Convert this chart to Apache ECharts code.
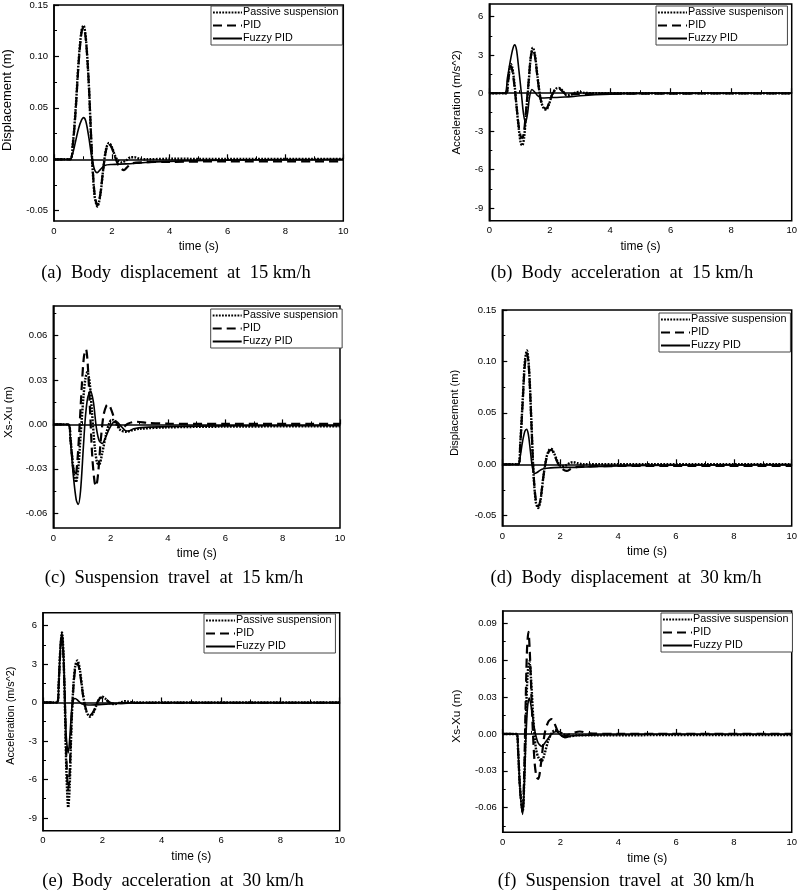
<!DOCTYPE html>
<html><head><meta charset="utf-8">
<script src="https://cdn.jsdelivr.net/npm/echarts@6/dist/echarts.min.js"></script>
<style>html,body{margin:0;padding:0;background:#fff}#c{width:800px;height:892px}</style>
</head><body><div id="c"></div>
<script>
// ---------- data ----------
const xTickLabels = ['0','2','4','6','8','10'];
const seriesNames = ['Passive suspension','PID','Fuzzy PID'];
const seriesNamesB = ['Passive suspenison','PID','Fuzzy PID'];
const captions = ['(a)  Body  displacement  at  15 km/h','(b)  Body  acceleration  at  15 km/h','(c)  Suspension  travel  at  15 km/h','(d)  Body  displacement  at  30 km/h','(e)  Body  acceleration  at  30 km/h','(f)  Suspension  travel  at  30 km/h'];
const yNames = ['Displacement (m)','Acceleration (m/s^2)','Xs-Xu (m)','Displacement (m)','Acceleration (m/s^2)','Xs-Xu (m)'];

const dispYLabels = ['-0.05','0.00','0.05','0.10','0.15'];
const dispYMinor = [-0.025,0.025,0.075,0.125];
const accYLabels = ['-9','-6','-3','0','3','6'];
const accYMinor = [-7.5,-4.5,-1.5,1.5,4.5];
const travCYLabels = ['-0.06','-0.03','0.00','0.03','0.06'];
const travCYMinor = [-0.045,-0.015,0.015,0.045,0.075];
const travFYLabels = ['-0.06','-0.03','0.00','0.03','0.06','0.09'];
const travFYMinor = [-0.075,-0.045,-0.015,0.015,0.045,0.075];

const aPassive = [[0,0],[0.55,0],[0.65,0.015],[0.75,0.05],[0.85,0.095],[0.95,0.125],[1.02,0.13],[1.1,0.118],[1.2,0.075],[1.3,0.01],[1.4,-0.035],[1.5,-0.046],[1.6,-0.035],[1.7,-0.01],[1.8,0.01],[1.9,0.016],[2.0,0.012],[2.1,0.004],[2.2,-0.001],[2.35,-0.003],[2.5,-0.001],[2.65,0.002],[2.78,0.002],[2.95,0.0005],[3.2,0],[4,0.0005],[6,0.0003],[10,0.0003]];
const aPID = [[0,0],[0.55,0],[0.65,0.014],[0.75,0.048],[0.85,0.093],[0.95,0.123],[1.02,0.128],[1.1,0.117],[1.2,0.075],[1.3,0.012],[1.4,-0.033],[1.5,-0.045],[1.6,-0.034],[1.7,-0.01],[1.8,0.009],[1.9,0.015],[2.0,0.011],[2.1,0.003],[2.2,-0.004],[2.32,-0.009],[2.42,-0.0105],[2.55,-0.007],[2.7,-0.004],[3.0,-0.003],[4,-0.0025],[6,-0.002],[10,-0.002]];
const aFuzzy = [[0,0],[0.55,0],[0.65,0.006],[0.75,0.018],[0.85,0.03],[0.95,0.038],[1.02,0.0405],[1.1,0.037],[1.2,0.022],[1.3,0.003],[1.4,-0.01],[1.49,-0.013],[1.6,-0.01],[1.75,-0.006],[2.0,-0.005],[2.5,-0.0045],[3.0,-0.0035],[3.5,-0.0025],[4.5,-0.0015],[6,-0.0008],[8,-0.0003],[10,0]];

const bPassive = [[0,0],[0.55,0],[0.62,1.0],[0.67,1.9],[0.71,2.3],[0.76,2.0],[0.83,0.8],[0.9,-1.0],[0.98,-2.9],[1.04,-3.9],[1.09,-4.1],[1.15,-3.5],[1.22,-1.5],[1.3,0.8],[1.37,2.8],[1.44,3.58],[1.51,3.0],[1.6,1.2],[1.7,-0.5],[1.8,-1.2],[1.88,-1.29],[1.97,-0.9],[2.08,-0.1],[2.2,0.35],[2.3,0.42],[2.42,0.2],[2.56,-0.15],[2.7,-0.1],[2.85,0.05],[2.97,0.1],[3.15,0.03],[3.5,0],[10,0]];
const bPID = [[0,0],[0.55,0],[0.62,0.9],[0.67,1.7],[0.71,2.1],[0.76,1.8],[0.83,0.6],[0.9,-1.0],[0.98,-2.7],[1.04,-3.4],[1.09,-3.5],[1.15,-3.0],[1.22,-1.2],[1.3,0.9],[1.37,2.8],[1.44,3.45],[1.51,2.9],[1.6,1.1],[1.7,-0.5],[1.8,-1.1],[1.88,-1.2],[1.97,-0.8],[2.08,-0.1],[2.2,0.3],[2.3,0.38],[2.42,0.15],[2.56,-0.12],[2.8,-0.05],[3.2,-0.05],[4,-0.03],[10,-0.02]];
const bFuzzy = [[0,0],[0.5,0],[0.6,1.2],[0.7,2.6],[0.78,3.5],[0.84,3.79],[0.9,3.4],[0.97,2.0],[1.06,0],[1.13,-1.6],[1.2,-2.3],[1.27,-1.5],[1.33,-0.3],[1.41,0.29],[1.5,0.1],[1.6,-0.2],[1.72,-0.37],[2.0,-0.35],[2.5,-0.3],[3.0,-0.2],[3.5,-0.12],[4,-0.07],[5,-0.02],[6,0],[10,0]];

const cPassive = [[0,0],[0.52,0],[0.6,-0.01],[0.7,-0.03],[0.79,-0.039],[0.87,-0.03],[0.95,-0.008],[1.05,0.018],[1.12,0.031],[1.19,0.0354],[1.27,0.028],[1.35,0.008],[1.45,-0.016],[1.53,-0.026],[1.6,-0.027],[1.7,-0.02],[1.85,-0.006],[1.98,0.002],[2.09,0.003],[2.2,0.0],[2.35,-0.004],[2.56,-0.005],[2.75,-0.004],[3.0,-0.003],[4,-0.002],[6,-0.0015],[10,-0.0012]];
const cPID = [[0,0],[0.52,0],[0.6,-0.01],[0.7,-0.03],[0.77,-0.035],[0.84,-0.025],[0.92,0.0],[1.0,0.028],[1.07,0.046],[1.14,0.0508],[1.2,0.041],[1.28,0.01],[1.36,-0.022],[1.44,-0.039],[1.49,-0.0417],[1.56,-0.034],[1.65,-0.012],[1.75,0.006],[1.85,0.0125],[1.92,0.0135],[2.0,0.011],[2.15,0.003],[2.3,-0.002],[2.4,-0.0025],[2.6,0.0005],[2.9,0.0018],[3.3,0.001],[4,0.0005],[6,0.0003],[10,0.0003]];
const cFuzzy = [[0,0],[0.52,0],[0.6,-0.012],[0.7,-0.035],[0.8,-0.051],[0.87,-0.0541],[0.95,-0.045],[1.05,-0.015],[1.12,0.005],[1.2,0.018],[1.3,0.0226],[1.4,0.015],[1.5,-0.002],[1.6,-0.011],[1.71,-0.0129],[1.8,-0.01],[1.95,-0.003],[2.1,0.0015],[2.2,0.002],[2.35,-0.001],[2.5,-0.004],[2.62,-0.0045],[2.8,-0.003],[3.2,-0.002],[4,-0.0015],[6,-0.001],[10,-0.0008]];

const dPassive = [[0,0],[0.55,0],[0.62,0.02],[0.7,0.06],[0.78,0.1],[0.85,0.1106],[0.92,0.095],[1.0,0.045],[1.08,-0.01],[1.16,-0.037],[1.24,-0.0426],[1.32,-0.035],[1.42,-0.012],[1.52,0.006],[1.62,0.014],[1.7,0.0148],[1.8,0.01],[1.92,0.002],[2.05,-0.002],[2.2,-0.001],[2.35,0.0015],[2.45,0.002],[2.6,0.001],[2.8,0],[10,0]];
const dPID = [[0,0],[0.55,0],[0.62,0.019],[0.7,0.058],[0.78,0.097],[0.85,0.108],[0.92,0.093],[1.0,0.044],[1.08,-0.009],[1.16,-0.035],[1.24,-0.041],[1.32,-0.034],[1.42,-0.012],[1.52,0.005],[1.62,0.013],[1.7,0.014],[1.8,0.009],[1.92,0.001],[2.05,-0.004],[2.22,-0.0065],[2.4,-0.004],[2.6,-0.0025],[3,-0.002],[5,-0.0015],[10,-0.0015]];
const dFuzzy = [[0,0],[0.55,0],[0.62,0.008],[0.7,0.022],[0.78,0.032],[0.84,0.0339],[0.9,0.029],[0.97,0.013],[1.04,-0.003],[1.11,-0.009],[1.2,-0.008],[1.35,-0.005],[1.53,-0.0039],[2.0,-0.003],[2.5,-0.003],[3,-0.0025],[4,-0.0015],[6,-0.0008],[10,-0.0003]];

const ePassive = [[0,0],[0.48,0],[0.53,1.5],[0.58,4.0],[0.64,5.46],[0.69,3.8],[0.74,-0.5],[0.79,-5.5],[0.85,-8.19],[0.9,-6.5],[0.95,-2.5],[1.02,1.2],[1.09,2.9],[1.16,3.27],[1.24,2.6],[1.34,0.8],[1.45,-0.6],[1.58,-1.11],[1.7,-0.8],[1.82,-0.1],[1.92,0.35],[2.0,0.44],[2.1,0.3],[2.25,-0.05],[2.43,-0.12],[2.6,0.0],[2.76,0.1],[2.9,0.05],[3.1,0],[10,0]];
const ePID = [[0,0],[0.48,0],[0.53,1.4],[0.58,3.9],[0.63,5.35],[0.68,4.0],[0.74,0.0],[0.79,-4.5],[0.85,-6.8],[0.9,-5.4],[0.95,-2.0],[1.02,1.0],[1.09,2.7],[1.16,3.05],[1.24,2.4],[1.34,0.7],[1.45,-0.55],[1.58,-1.0],[1.7,-0.7],[1.82,-0.05],[1.92,0.32],[2.0,0.4],[2.1,0.28],[2.25,0.0],[2.4,-0.08],[2.6,-0.05],[3,-0.03],[10,-0.02]];
const eFuzzy = [[0,0],[0.48,0],[0.53,1.5],[0.58,4.0],[0.63,5.46],[0.68,4.2],[0.73,1.0],[0.78,-2.5],[0.85,-3.94],[0.91,-2.5],[0.97,-0.5],[1.03,0.25],[1.08,0.31],[1.18,0.15],[1.3,-0.1],[1.53,-0.2],[2.0,-0.15],[2.5,-0.08],[3,-0.03],[4,0],[10,0]];

const fPassive = [[0,0],[0.48,0],[0.53,-0.012],[0.6,-0.044],[0.69,-0.063],[0.75,-0.035],[0.8,0.01],[0.86,0.048],[0.92,0.059],[0.98,0.045],[1.06,0.012],[1.15,-0.012],[1.25,-0.02],[1.35,-0.022],[1.45,-0.016],[1.6,-0.004],[1.8,0.003],[2.0,0.001],[2.3,-0.002],[2.6,-0.001],[3,-0.0012],[5,-0.001],[10,-0.001]];
const fPID = [[0,0],[0.48,0],[0.53,-0.012],[0.6,-0.045],[0.69,-0.064],[0.74,-0.035],[0.79,0.02],[0.84,0.068],[0.89,0.083],[0.95,0.06],[1.02,0.015],[1.1,-0.022],[1.17,-0.035],[1.23,-0.0365],[1.32,-0.025],[1.45,0.0],[1.58,0.01],[1.69,0.012],[1.8,0.008],[1.95,0.0],[2.1,-0.002],[2.35,0.0],[2.67,0.002],[3.0,0.0005],[4,0],[10,0]];
const fFuzzy = [[0,0],[0.48,0],[0.53,-0.012],[0.6,-0.045],[0.69,-0.0654],[0.75,-0.04],[0.8,-0.005],[0.86,0.022],[0.92,0.0292],[1.0,0.02],[1.1,0.004],[1.22,-0.007],[1.35,-0.01],[1.5,-0.006],[1.7,0.0],[1.86,0.002],[2.0,-0.001],[2.15,-0.003],[2.4,-0.0015],[3,-0.001],[5,-0.0005],[10,-0.0005]];

// ---------- layout ----------
const SANS = '"Liberation Sans", Arial, sans-serif';
const SERIF = '"Liberation Serif", "Times New Roman", serif';
const panels = [
  {grid:{left:50.7,top:4,width:292.6,height:217}, ymin:-0.06, ymax:0.15, yl:dispYLabels, ym:dispYMinor, names:seriesNames, data:[aPassive,aPID,aFuzzy], nameGap:40, nameSize:13, nameShift:26, leg:{left:211,top:6}, cap:[176,273]},
  {grid:{left:489.3,top:4,width:305,height:216.7}, ymin:-10, ymax:7, yl:accYLabels, ym:accYMinor, names:seriesNamesB, data:[bPassive,bPID,bFuzzy], nameGap:26, nameSize:11.5, nameShift:20, leg:{left:656,top:6}, cap:[622,273]},
  {grid:{left:53.3,top:306,width:286.7,height:222}, ymin:-0.07, ymax:0.08, yl:travCYLabels, ym:travCYMinor, names:seriesNames, data:[cPassive,cPID,cFuzzy], nameGap:38, nameSize:11.5, nameShift:10, leg:{left:210.7,top:309}, cap:[174,578]},
  {grid:{left:502.3,top:310,width:289.4,height:216}, ymin:-0.06, ymax:0.15, yl:dispYLabels, ym:dispYMinor, names:seriesNames, data:[dPassive,dPID,dFuzzy], nameGap:42, nameSize:11, nameShift:10, leg:{left:659,top:313}, cap:[626,578]},
  {grid:{left:43,top:612.7,width:296.7,height:218}, ymin:-10, ymax:7, yl:accYLabels, ym:accYMinor, names:seriesNames, data:[ePassive,ePID,eFuzzy], nameGap:26, nameSize:10.8, nameShift:12, leg:{left:204,top:614}, cap:[173,881]},
  {grid:{left:502.7,top:611,width:289.6,height:221.3}, ymin:-0.08, ymax:0.10, yl:travFYLabels, ym:travFYMinor, names:seriesNames, data:[fPassive,fPID,fFuzzy], nameGap:40, nameSize:11.8, nameShift:11, leg:{left:661,top:613}, cap:[626,881]}
];

const lineStyles = [
  {color:'#000', width:2.4, type:[1.8,1.3]},
  {color:'#000', width:2.2, type:[9,5]},
  {color:'#000', width:1.6, type:'solid'}
];

const option = {animation:false, backgroundColor:'#fff', grid:[], xAxis:[], yAxis:[], series:[], legend:[], graphic:[]};
panels.forEach((p,i)=>{
  option.grid.push(Object.assign({show:true, borderColor:'#000', borderWidth:1.5, backgroundColor:'transparent'}, p.grid));
  option.xAxis.push({
    type:'value', gridIndex:i, min:0, max:10, interval:2,
    name:'time (s)', nameLocation:'middle', nameGap:20,
    nameTextStyle:{fontFamily:SANS, fontSize:12, color:'#000'},
    axisLine:{lineStyle:{color:'#000', width:1.5}},
    axisTick:{inside:true, length:5, lineStyle:{color:'#000', width:1.2}},
    minorTick:{show:true, splitNumber:2, length:3, lineStyle:{color:'#000', width:1}},
    axisLabel:{fontFamily:SANS, fontSize:9.5, color:'#000', margin:5, formatter:v=>xTickLabels[Math.round(v/2)] ?? String(v)},
    splitLine:{show:false}
  });
  const major = p.yl.map(Number);
  option.yAxis.push({
    type:'value', gridIndex:i, min:p.ymin, max:p.ymax, position:'left',
    name:yNames[i], nameLocation:'middle', nameGap:p.nameGap,
    nameTextStyle:{fontFamily:SANS, fontSize:p.nameSize, color:'#000', padding:[0,0,0,p.nameShift]},
    axisLine:{show:true, lineStyle:{color:'#000', width:1.5}},
    axisTick:{show:true, inside:true, length:5, customValues:major, lineStyle:{color:'#000', width:1.2}},
    axisLabel:{fontFamily:SANS, fontSize:9.5, color:'#000', margin:6, customValues:major,
      formatter:v=>{const k=major.findIndex(m=>Math.abs(m-v)<1e-9); return k>=0?p.yl[k]:'';}},
    splitLine:{show:false}
  });
  option.yAxis.push({
    type:'value', gridIndex:i, min:p.ymin, max:p.ymax, position:'left', offset:0,
    axisLine:{show:false},
    axisTick:{show:true, inside:true, length:3, customValues:p.ym, lineStyle:{color:'#000', width:1}},
    axisLabel:{show:false}, splitLine:{show:false}
  });
  p.data.forEach((d,k)=>{
    option.series.push({
      type:'line', name:p.names[k], xAxisIndex:i, yAxisIndex:option.yAxis.length-2,
      data:d, showSymbol:false, symbol:'none', smooth:0.3, color:'#000',
      lineStyle:lineStyles[k], z:2+k
    });
  });
  option.legend.push({
    data:p.names, orient:'vertical', left:p.leg.left, top:p.leg.top,
    backgroundColor:'#fff', borderColor:'#444', borderWidth:1, borderRadius:0,
    padding:[1,4,1,1], itemGap:2, itemWidth:29, itemHeight:10,
    itemStyle:{opacity:0, color:'transparent', borderWidth:0},
    textStyle:{fontFamily:SANS, fontSize:10.8, color:'#000', padding:[0,0,0,-4]},
    selectedMode:false
  });
  option.graphic.push({
    type:'text', x:p.cap[0], y:p.cap[1], z:10,
    style:{text:captions[i], font:'18.5px '+SERIF, fill:'#000', align:'center', verticalAlign:'middle'}
  });
});

const chart = echarts.init(document.getElementById('c'), null, {renderer:'canvas'});
chart.setOption(option);
</script>
</body></html>
